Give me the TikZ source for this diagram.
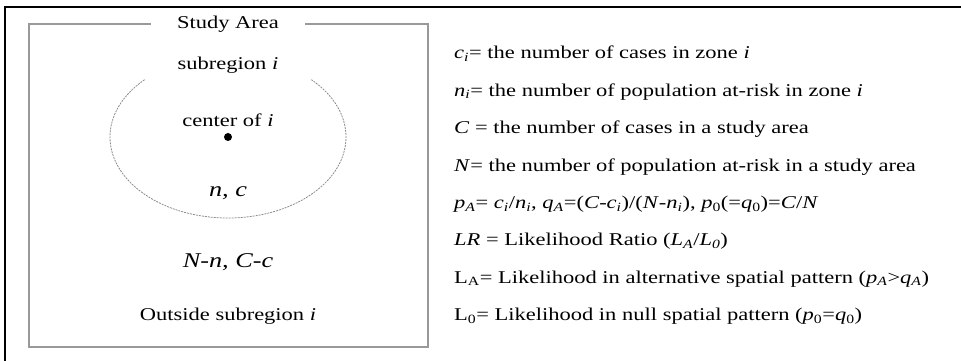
\documentclass[tikz,border=0pt]{standalone}
\usepackage{fontspec}
\setmainfont[FakeStretch=1.25]{Liberation Serif}
\usetikzlibrary{positioning}

\newcommand{\txtfont}{\fontsize{18}{22}\selectfont}
\newcommand{\bigfont}{\fontsize{21}{25}\selectfont\itshape}
\newcommand{\vi}[2]{\textit{#1}\textsubscript{\textit{#2}}}

\begin{document}
\begin{tikzpicture}[
  x=1pt, y=1pt,
  node distance=37.4pt,
  lbl/.style={inner sep=0pt, font=\txtfont},
  defn/.style={inner sep=0pt, text height=13pt, text depth=5pt, font=\txtfont},
  area/.style={draw=black!40, line width=1.2pt},
  zone/.style={draw=black!45, line width=0.8pt, dash pattern=on 2pt off 1pt},
]
  \useasboundingbox (0,0) rectangle (961,361);
  \draw[line width=1.8pt] (5,0) -- (5,354) -- (961,354);

  % study area with subregion i
  \draw[area] (29,14) rectangle (428,337);
  \node[lbl, fill=white, inner xsep=26pt, inner ysep=2pt] (title) at (228,337) {Study Area};
  \node[circle, fill=black, inner sep=0pt, minimum size=8pt] (ctr) at (228,224) {};
  \draw[zone] (ctr) ++(135:118pt and 81pt)
    arc[start angle=135, end angle=405, x radius=118pt, y radius=81pt];
  \node[lbl] (sub) at (228,296) {subregion \textit{i}};
  \node[lbl] (ctrlbl) at (228,241) {center of \textit{i}};
  \node[lbl, font=\bigfont] (inside) at (228,168) {n, c};
  \node[lbl, font=\bigfont] (outside) at (228,99) {N-n, C-c};
  \node[lbl] (outlbl) at (228,45) {Outside subregion \textit{i}};

  % definitions
  \node[defn, anchor=west] (ci) at (454,306) {\vi{c}{i}= the number of cases in zone \textit{i}};
  \node[defn, below=of ci.west, anchor=west] (ni) {\vi{n}{i}= the number of population at-risk in zone \textit{i}};
  \node[defn, below=of ni.west, anchor=west] (cc) {\textit{C} = the number of cases in a study area};
  \node[defn, below=of cc.west, anchor=west] (nn) {\textit{N}= the number of population at-risk in a study area};
  \node[defn, below=of nn.west, anchor=west] (pa) {\vi{p}{A}= \vi{c}{i}/\vi{n}{i}, \vi{q}{A}=(\textit{C}-\vi{c}{i})/(\textit{N}-\vi{n}{i}), \textit{p}\textsubscript{0}(=\textit{q}\textsubscript{0})=\textit{C}/\textit{N}};
  \node[defn, below=of pa.west, anchor=west] (lr) {\textit{LR} = Likelihood Ratio (\vi{L}{A}/\vi{L}{0})};
  \node[defn, below=of lr.west, anchor=west] (la) {L\textsubscript{A}= Likelihood in alternative spatial pattern (\vi{p}{A}>\vi{q}{A})};
  \node[defn, below=of la.west, anchor=west] (lz) {L\textsubscript{0}= Likelihood in null spatial pattern (\textit{p}\textsubscript{0}=\textit{q}\textsubscript{0})};
\end{tikzpicture}
\end{document}
